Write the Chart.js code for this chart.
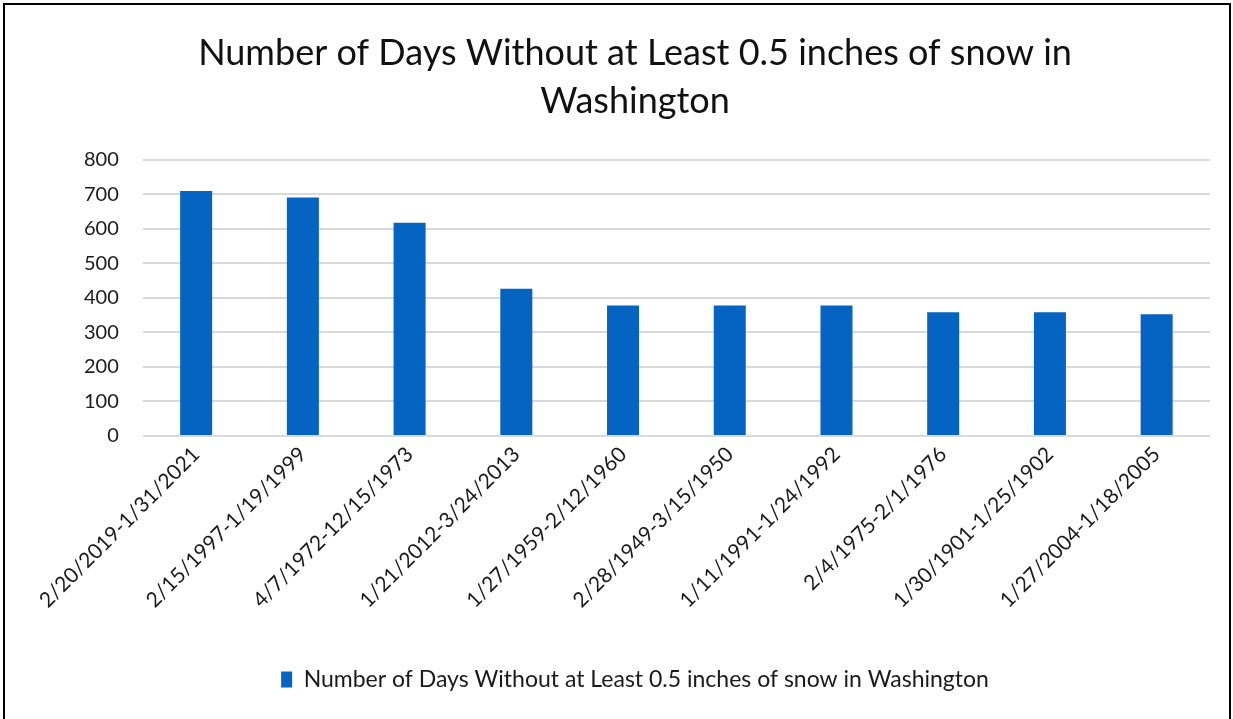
<!DOCTYPE html>
<html>
<head>
<meta charset="utf-8">
<script src="https://cdn.jsdelivr.net/npm/chart.js@4/dist/chart.umd.min.js"></script>
<style>
  html, body { margin: 0; padding: 0; background: #fff; }
  #wrap { position: relative; width: 1233px; height: 719px; overflow: hidden; }
  #frame { position: absolute; left: 3px; top: 3px; width: 1228px; height: 740px; border: 2px solid #000; box-sizing: border-box; pointer-events: none; }
  canvas { position: absolute; left: 0; top: 0; }
</style>
</head>
<body>
<div id="wrap">
  <canvas id="c" width="1233" height="719"></canvas>
  <div id="frame"></div>
</div>
<script>
const titleLines = ["Number of Days Without at Least 0.5 inches of snow in", "Washington"];
const seriesName = "Number of Days Without at Least 0.5 inches of snow in Washington";
const categories = [
  "2/20/2019-1/31/2021",
  "2/15/1997-1/19/1999",
  "4/7/1972-12/15/1973",
  "1/21/2012-3/24/2013",
  "1/27/1959-2/12/1960",
  "2/28/1949-3/15/1950",
  "1/11/1991-1/24/1992",
  "2/4/1975-2/1/1976",
  "1/30/1901-1/25/1902",
  "1/27/2004-1/18/2005"
];
const days = [710, 691, 618, 427, 378, 378, 378, 359, 359, 353];
const yTicks = [0, 100, 200, 300, 400, 500, 600, 700, 800];

const FONT = "Lato, 'Open Sans', sans-serif";

new Chart(document.getElementById('c'), {
  type: 'bar',
  data: {
    labels: categories,
    datasets: [{
      label: seriesName,
      data: days,
      backgroundColor: '#0563C1',
      borderWidth: 0,
      categoryPercentage: 0.3,
      barPercentage: 1.0
    }]
  },
  options: {
    responsive: false,
    animation: false,
    layout: { padding: { left: 60, right: 23, top: 29, bottom: 18 } },
    plugins: {
      title: {
        display: true,
        text: titleLines,
        color: '#111111',
        font: { family: FONT, size: 36, weight: 'normal', lineHeight: 1.333 },
        padding: { top: 0, bottom: 35 }
      },
      legend: {
        display: true,
        position: 'bottom',
        labels: {
          color: '#1a1a1a',
          font: { family: FONT, size: 23 },
          boxWidth: 11,
          boxHeight: 16,
          padding: 10
        }
      },
      tooltip: { enabled: false }
    },
    scales: {
      x: {
        grid: { display: false, drawTicks: false },
        border: { display: false },
        afterFit: (axis) => { axis.height = 222; },
        ticks: {
          color: '#1a1a1a',
          font: { family: FONT, size: 21 },
          maxRotation: 45,
          minRotation: 45,
          autoSkip: false,
          padding: 6
        }
      },
      y: {
        min: 0,
        max: 800,
        afterBuildTicks: (axis) => { axis.ticks = yTicks.map(v => ({ value: v })); },
        grid: { color: '#d9d9d9', lineWidth: 2, drawTicks: false },
        border: { display: false },
        ticks: {
          color: '#1a1a1a',
          font: { family: FONT, size: 20 },
          padding: 24
        }
      }
    }
  }
});
</script>
</body>
</html>
